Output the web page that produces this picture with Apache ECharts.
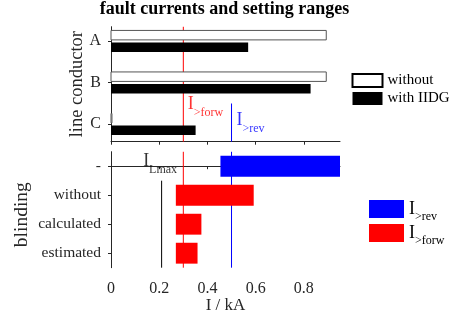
<!DOCTYPE html>
<html><head><meta charset="utf-8">
<script src="https://cdn.jsdelivr.net/npm/echarts@6/dist/echarts.min.js"></script>
<style>html,body{margin:0;padding:0;background:#fff}#c{width:449px;height:317px}</style>
</head><body><div id="c"></div>
<script>
// ---- data ----
const conductors = ['A', 'B', 'C'];
const faultWithout = [0.893, 0.893, 0.004];
const faultWithIIDG = [0.569, 0.828, 0.351];
const blindingCases = ['-', 'without', 'calculated', 'estimated'];
const revCases = ['-'];
const revFrom = [0.454];
const revTo = [0.95];
const forwCases = ['without', 'calculated', 'estimated'];
const forwFrom = [0.269, 0.269, 0.269];
const forwTo = [0.592, 0.375, 0.359];
const xTicks = [0, 0.2, 0.4, 0.6, 0.8];
const iForwSetting = 0.3;
const iRevSetting = 0.5;
const iLmax = 0.21;
const xMax = 0.95;

// ---- styling ----
const FONT = 'Liberation Serif';
const AX = '#262626';
const topMin = 0.65, topMax = 3.42;
const botMin = -0.5, botMax = 3.5;
const rich = {
  i: {fontSize: 18, lineHeight: 18, verticalAlign: 'top', fontFamily: FONT},
  s: {fontSize: 12, lineHeight: 12, verticalAlign: 'top', padding: [11, 0, 0, 0], fontFamily: FONT}
};
const sub = (a, b) => '{i|' + a + '}{s|' + b + '}';

function topBar(sign, fill, stroke) {
  return function (params, api) {
    const c = api.value(2) + sign * 0.146;
    const hh = 0.114;
    const p0 = api.coord([api.value(0), c - hh]);
    const p1 = api.coord([api.value(1), c + hh]);
    return {type: 'rect', shape: {x: p0[0], y: Math.min(p0[1], p1[1]), width: p1[0] - p0[0], height: Math.abs(p1[1] - p0[1])},
      style: {fill: fill, stroke: stroke, lineWidth: stroke ? 1 : 0}};
  };
}
function rangeBar(fill) {
  return function (params, api) {
    const c = api.value(2);
    const hh = 0.36;
    const p0 = api.coord([api.value(0), c - hh]);
    const p1 = api.coord([api.value(1), c + hh]);
    return {type: 'rect', shape: {x: p0[0], y: Math.min(p0[1], p1[1]), width: p1[0] - p0[0], height: Math.abs(p1[1] - p0[1])},
      style: {fill: fill}};
  };
}
const vline = (name, grid, x, y0, y1, color) => ({
  name: name, type: 'line', xAxisIndex: grid, yAxisIndex: grid, data: [[x, y0], [x, y1]],
  symbol: 'none', silent: true, z: 1, lineStyle: {color: color, width: 1}, animation: false
});

const xAxisBase = (grid, showLabel) => ({
  type: 'value', gridIndex: grid, min: 0, max: xMax,
  axisLine: {lineStyle: {color: AX}}, splitLine: {show: false},
  axisTick: {customValues: xTicks, length: 3, lineStyle: {color: AX}},
  axisLabel: {show: showLabel, customValues: xTicks, formatter: v => String(v), fontFamily: FONT, fontSize: 16, color: AX, margin: 13}
});

const option = {
  animation: false,
  backgroundColor: '#fff',
  title: {text: 'fault currents and setting ranges', left: 'center', top: 0, padding: 0,
    textStyle: {fontFamily: FONT, fontSize: 18, fontWeight: 'bold', color: '#000'}},
  grid: [
    {left: 111, right: 109, top: 26.7, height: 115, outerBoundsMode: 'none', containLabel: false},
    {left: 111, right: 109, top: 151.7, height: 116, outerBoundsMode: 'none', containLabel: false}
  ],
  xAxis: [
    xAxisBase(0, false),
    Object.assign(xAxisBase(1, true), {name: 'I / kA', nameLocation: 'middle', nameGap: 29, nameMoveOverlap: false,
      nameTextStyle: {fontFamily: FONT, fontSize: 17, color: AX}})
  ],
  yAxis: [
    {type: 'value', gridIndex: 0, min: topMin, max: topMax, inverse: true,
      name: 'line conductor', nameLocation: 'middle', nameGap: 24.5, nameRotate: 90, nameMoveOverlap: false,
      nameTextStyle: {fontFamily: FONT, fontSize: 18.5, color: AX},
      axisLine: {show: true, lineStyle: {color: AX}}, splitLine: {show: false},
      axisTick: {show: true, customValues: [1, 2, 3], length: 3, lineStyle: {color: AX}},
      axisLabel: {customValues: [1, 2, 3], formatter: v => conductors[Math.round(v) - 1], fontFamily: FONT, fontSize: 16, color: AX, margin: 10}},
    {type: 'value', gridIndex: 1, min: botMin, max: botMax, inverse: true,
      name: 'blinding', nameLocation: 'middle', nameGap: 79.5, nameRotate: 90, nameMoveOverlap: false,
      nameTextStyle: {fontFamily: FONT, fontSize: 19.5, color: AX, padding: [0, 10, 0, 0]},
      axisLine: {show: true, lineStyle: {color: AX}}, splitLine: {show: false},
      axisTick: {show: true, customValues: [0, 1, 2, 3], length: 3, lineStyle: {color: AX}},
      axisLabel: {customValues: [0, 1, 2, 3], formatter: v => blindingCases[Math.round(v)], fontFamily: FONT, fontSize: 15.5, color: AX, margin: 10}}
  ],
  legend: [
    {data: ['without', 'with IIDG'], orient: 'vertical', left: 351.5, top: 73, padding: 0, itemWidth: 30, itemHeight: 13, itemGap: 3,
      icon: 'rect', selectedMode: false, textStyle: {fontFamily: FONT, fontSize: 15, color: '#000'}},
    {data: ['I>rev', 'I>forw'], orient: 'vertical', left: 369, top: 200, padding: 0, itemWidth: 35, itemHeight: 18, itemGap: 1,
      icon: 'rect', selectedMode: false,
      formatter: n => n === 'I>rev' ? sub('I', '>rev') : sub('I', '>forw'),
      textStyle: {fontFamily: FONT, fontSize: 16, color: '#000', rich: rich}}
  ],
  series: [
    vline('l1', 0, iForwSetting, topMin, topMax, '#ff0000'),
    vline('l2', 0, iRevSetting, 2.5, topMax, '#0000ff'),
    vline('l3', 1, iForwSetting, botMin, botMax, '#ff0000'),
    vline('l4', 1, iRevSetting, botMin, botMax, '#0000ff'),
    vline('l5', 1, iLmax, 0.5, botMax, '#000000'),
    {name: 'without', type: 'custom', xAxisIndex: 0, yAxisIndex: 0, z: 3,
      itemStyle: {color: '#ffffff', borderColor: '#000', borderWidth: 1},
      renderItem: topBar(-1, '#ffffff', '#555'), encode: {x: [0, 1], y: 2},
      data: faultWithout.map((v, i) => [0, v, i + 1])},
    {name: 'with IIDG', type: 'custom', xAxisIndex: 0, yAxisIndex: 0, z: 3,
      itemStyle: {color: '#000000'},
      renderItem: topBar(1, '#000000', null), encode: {x: [0, 1], y: 2},
      data: faultWithIIDG.map((v, i) => [0, v, i + 1])},
    {name: 'I>rev', type: 'custom', xAxisIndex: 1, yAxisIndex: 1, z: 3,
      itemStyle: {color: '#0000ff'},
      renderItem: rangeBar('#0000ff'), encode: {x: [0, 1], y: 2},
      data: revCases.map((c, i) => [revFrom[i], revTo[i], blindingCases.indexOf(c)])},
    {name: 'I>forw', type: 'custom', xAxisIndex: 1, yAxisIndex: 1, z: 3,
      itemStyle: {color: '#ff0000'},
      renderItem: rangeBar('#ff0000'), encode: {x: [0, 1], y: 2},
      data: forwCases.map((c, i) => [forwFrom[i], forwTo[i], blindingCases.indexOf(c)])},
    {name: 'labelsTop', type: 'scatter', xAxisIndex: 0, yAxisIndex: 0, symbolSize: 1, silent: true, z: 5,
      itemStyle: {color: 'rgba(0,0,0,0)'},
      data: [
        {value: [iForwSetting, 2.5], label: {show: true, position: 'right', distance: 4, offset: [0, 1.2], formatter: sub('I', '>forw'), color: '#ff0000', rich: rich}},
        {value: [iRevSetting, 2.5], label: {show: true, position: 'right', distance: 4.5, offset: [0, 17.2], formatter: sub('I', '>rev'), color: '#0000ff', rich: rich}}
      ]},
    {name: 'labelsBot', type: 'scatter', xAxisIndex: 1, yAxisIndex: 1, symbolSize: 1, silent: true, z: 5,
      itemStyle: {color: 'rgba(0,0,0,0)'},
      data: [
        {value: [iLmax, 0.5], label: {show: true, position: 'top', distance: 9.7, offset: [-1.5, 0], formatter: sub('I', 'Lmax'), color: '#000', rich: rich}}
      ]}
  ]
};
const chart = echarts.init(document.getElementById('c'), null, {renderer: 'canvas'});
chart.setOption(option);
</script></body></html>
